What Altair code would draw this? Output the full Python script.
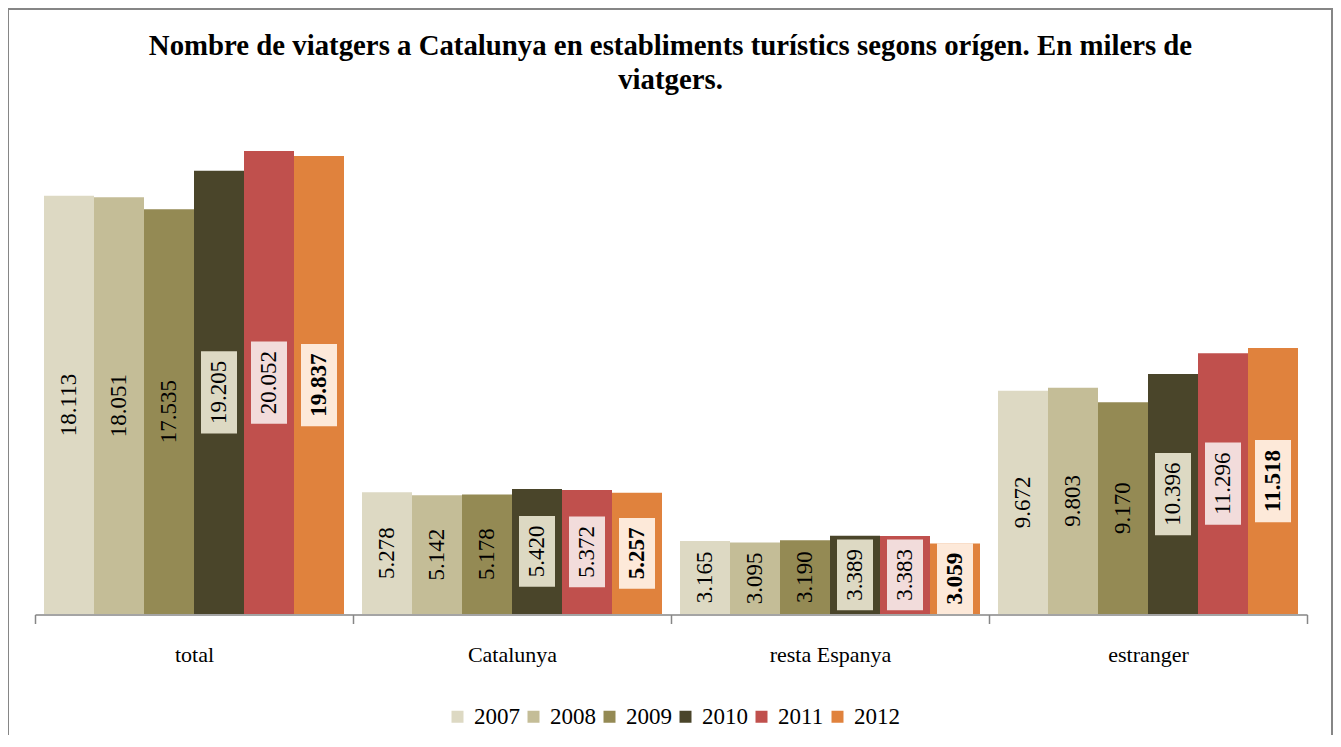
import altair as alt
import pandas as pd

regions = ["total", "Catalunya", "resta Espanya", "estranger"]
years = ["2007", "2008", "2009", "2010", "2011", "2012"]
v2007 = [18113, 5278, 3165, 9672]
v2008 = [18051, 5142, 3095, 9803]
v2009 = [17535, 5178, 3190, 9170]
v2010 = [19205, 5420, 3389, 10396]
v2011 = [20052, 5372, 3383, 11296]
v2012 = [19837, 5257, 3059, 11518]
series = [v2007, v2008, v2009, v2010, v2011, v2012]

colors = ["#DDD9C3", "#C4BD97", "#948A54", "#4A452A", "#C0504D", "#E0823D"]
box_colors = {"2010": "#DDD9C3", "2011": "#F2DCDB", "2012": "#FDE9D9"}

title_lines = [
    "Nombre de viatgers a Catalunya en establiments turístics segons orígen. En milers de",
    "viatgers.",
]

FONT = "Liberation Serif"
W, H = 1325, 727
BASE = 606          # pixel row of the value axis zero
YMAX = 26250        # value at the top of the view
UNIT = YMAX / BASE  # data units per pixel
LFS = 23            # bar label font size

rows = []
for y, vals in zip(years, series):
    for r, v in zip(regions, vals):
        lab = f"{v / 1000:.3f}"
        text_px = ((len(lab) - 1) * 0.5 + 0.25) * LFS
        half_px = text_px / 2 + 9.5
        rows.append({
            "region": r, "year": y, "value": v, "label": lab,
            "mid": v / 2,
            "lo": v / 2 - half_px * UNIT, "hi": v / 2 + half_px * UNIT,
            "box": box_colors.get(y, ""),
        })
df = pd.DataFrame(rows)

x_enc = alt.X("region:N", sort=regions,
              scale=alt.Scale(range=[27, 1299], paddingInner=0, paddingOuter=0),
              axis=alt.Axis(title=None, orient="bottom", offset=BASE + 0.5 - H,
                            domainColor="#868686", domainWidth=1.5,
                            tickColor="#868686", tickWidth=1.5, tickSize=9,
                            tickBand="extent", labelFont=FONT, labelFontSize=22,
                            labelColor="black", labelPadding=21, labelAngle=0,
                            grid=False))
xo_enc = alt.XOffset("year:N", sort=years,
                     scale=alt.Scale(paddingInner=0, paddingOuter=0.18))
y_scale = alt.Scale(domain=[0, YMAX], range=[BASE, 0], nice=False, zero=True)

base = alt.Chart(df)

bars = base.mark_bar().encode(
    x=x_enc, xOffset=xo_enc,
    y=alt.Y("value:Q", scale=y_scale, axis=None),
    color=alt.Color("year:N", sort=years,
                    scale=alt.Scale(domain=years, range=colors),
                    legend=alt.Legend(title=None, orient="none", direction="horizontal",
                                      legendX=438, legendY=697,
                                      symbolType="square", symbolSize=144,
                                      symbolStrokeWidth=0, labelFont=FONT,
                                      labelFontSize=23, labelColor="black",
                                      columnPadding=2, labelOffset=5)),
)

boxes = base.transform_filter("datum.box != ''").mark_bar(width=36).encode(
    x=x_enc, xOffset=xo_enc,
    y=alt.Y("lo:Q", scale=y_scale, axis=None),
    y2="hi:Q",
    color=alt.Color("box:N", scale=None, legend=None),
)

texts = base.transform_filter("datum.year != '2012'").mark_text(
    angle=270, font=FONT, fontSize=LFS, color="black", align="center", baseline="middle"
).encode(
    x=x_enc, xOffset=xo_enc,
    y=alt.Y("mid:Q", scale=y_scale, axis=None),
    text="label:N",
)

texts_bold = base.transform_filter("datum.year == '2012'").mark_text(
    angle=270, font=FONT, fontSize=LFS, fontWeight="bold", color="black",
    align="center", baseline="middle"
).encode(
    x=x_enc, xOffset=xo_enc,
    y=alt.Y("mid:Q", scale=y_scale, axis=None),
    text="label:N",
)

# chart frame (top, left and right edges)
frame_df = pd.DataFrame({"edge": ["top"]})
frame_style = dict(color="#868686", strokeWidth=2)
frame_top = alt.Chart(frame_df).mark_rule(**frame_style).encode(
    x=alt.value(0), x2=alt.value(W), y=alt.value(1))
frame_left = alt.Chart(frame_df).mark_rule(**frame_style).encode(
    x=alt.value(0), y=alt.value(0), y2=alt.value(H))
frame_right = alt.Chart(frame_df).mark_rule(**frame_style).encode(
    x=alt.value(W - 1), y=alt.value(0), y2=alt.value(H))

chart = alt.layer(bars, boxes, texts, texts_bold, frame_top, frame_left, frame_right).properties(
    width=W, height=H, padding=0,
    autosize=alt.AutoSizeParams(type="none"),
    title=alt.TitleParams(text=title_lines, font=FONT, fontSize=28.8, fontWeight="bold",
                          color="black", anchor="middle", lineHeight=34, offset=-88),
).configure_view(stroke=None).configure(background="white")

chart.save("out.html", embed_options={"renderer": "svg", "actions": False})
